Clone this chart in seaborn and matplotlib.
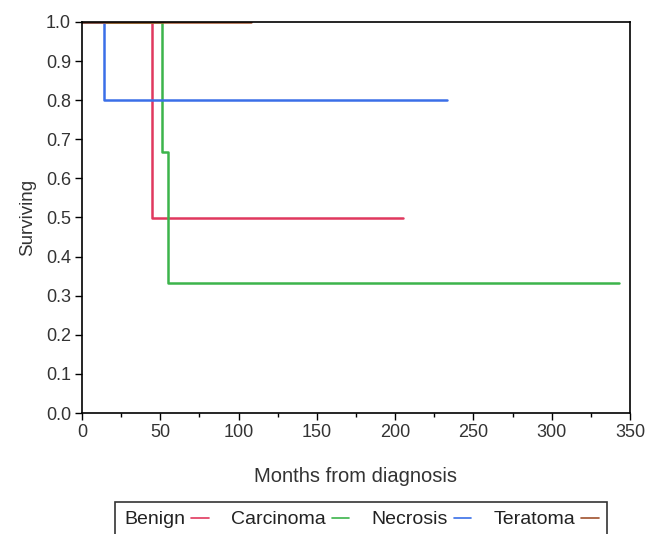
import matplotlib
matplotlib.use("Agg")
import matplotlib.pyplot as plt
from matplotlib.ticker import MultipleLocator, FormatStrFormatter
from matplotlib.lines import Line2D
import seaborn as sns
import pandas as pd

# Kaplan-Meier step data (months, surviving fraction)
benign_t = [0, 108]
benign_s = [1.0, 1.0]
carcinoma_t = [0, 45, 205]
carcinoma_s = [1.0, 0.5, 0.5]
necrosis_t = [0, 51, 55, 343]
necrosis_s = [1.0, 0.667, 0.333, 0.333]
teratoma_t = [0, 14, 233]
teratoma_s = [1.0, 0.8, 0.8]

groups = ["Benign", "Carcinoma", "Necrosis", "Teratoma"]
colors = {"Benign": "#a0522d", "Carcinoma": "#e0385e",
          "Necrosis": "#3cb44b", "Teratoma": "#3a6fe8"}
# legend as printed in the source figure (label followed by sample)
legend_labels = ["Benign", "Carcinoma", "Necrosis", "Teratoma"]
legend_colors = ["#e0385e", "#3cb44b", "#3a6fe8", "#a0522d"]

rows = []
for g, t, s in [("Benign", benign_t, benign_s), ("Carcinoma", carcinoma_t, carcinoma_s),
                ("Necrosis", necrosis_t, necrosis_s), ("Teratoma", teratoma_t, teratoma_s)]:
    for ti, si in zip(t, s):
        rows.append({"group": g, "months": ti, "surv": si})
df = pd.DataFrame(rows)

sns.set_style("ticks")
plt.rcParams["font.family"] = ["Liberation Sans", "DejaVu Sans"]

fig = plt.figure(figsize=(6.68, 5.34), dpi=100)
ax = fig.add_axes([82/668, 1 - 413/534, (630-82)/668, (413-22)/534])

order_draw = ["Carcinoma", "Necrosis", "Teratoma", "Benign"]
for g in order_draw:
    sns.lineplot(data=df[df.group == g], x="months", y="surv", color=colors[g],
                 drawstyle="steps-post", estimator=None, sort=False, lw=1.8,
                 ax=ax, legend=False)

ax.set_xlim(0, 350)
ax.set_ylim(0, 1.0)
ax.xaxis.set_major_locator(MultipleLocator(50))
ax.xaxis.set_minor_locator(MultipleLocator(25))
ax.yaxis.set_major_locator(MultipleLocator(0.1))
ax.yaxis.set_major_formatter(FormatStrFormatter("%.1f"))
ax.tick_params(axis="both", which="major", direction="out", length=5, width=1,
               labelsize=13, color="black", labelcolor="#333333", pad=3)
ax.tick_params(axis="x", which="minor", direction="out", length=3, width=1, color="black")
for sp in ax.spines.values():
    sp.set_visible(True)
    sp.set_color("black")
    sp.set_linewidth(1.2)

ax.set_xlabel("Months from diagnosis", fontsize=14.5, color="#333333", labelpad=19)
ax.set_ylabel("Surviving", fontsize=13.5, color="#333333", labelpad=7)

handles = [Line2D([], [], color=c, lw=1.2) for c in legend_colors]
leg = fig.legend(handles, legend_labels, loc="upper center", ncol=4,
                 bbox_to_anchor=(0.541, 1 - 502/534), markerfirst=False,
                 frameon=True, fancybox=False, fontsize=14, handlelength=0.9,
                 handletextpad=0.3, columnspacing=1.15, borderpad=0.45,
                 borderaxespad=0, edgecolor="black")
leg.get_frame().set_linewidth(1.2)
for txt in leg.get_texts():
    txt.set_color("#222222")

fig.savefig("out.png", dpi=100)
